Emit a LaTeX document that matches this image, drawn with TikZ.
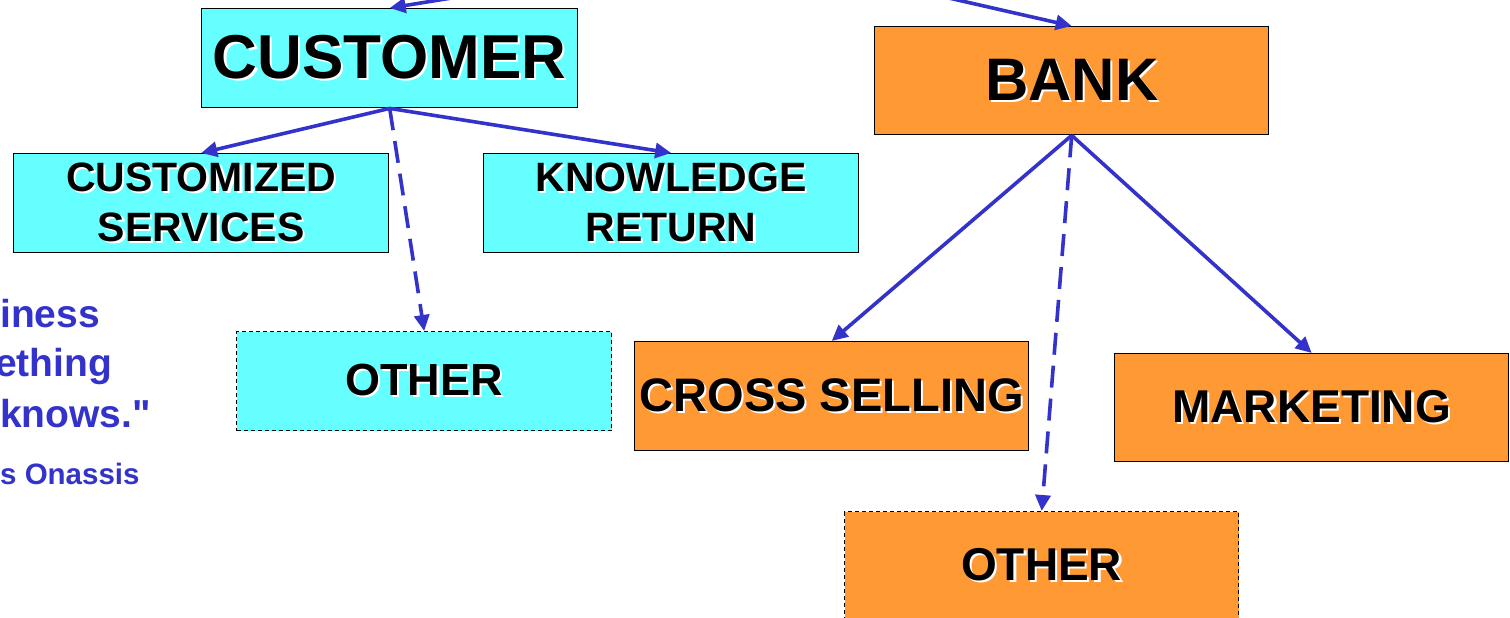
\documentclass[tikz,border=0pt]{standalone}
\usepackage{fontspec}
\setmainfont{Liberation Sans}
\newfontfamily\qfont{Liberation Sans}
\usetikzlibrary{arrows.meta}
\definecolor{cyanbox}{HTML}{66FFFF}
\definecolor{orangebox}{HTML}{FF9933}
\definecolor{arrblue}{HTML}{3333CC}
\newcommand\shtxt[1]{\rlap{\kern2.2pt\raisebox{-2.2pt}{\color{white}#1}}#1}
\tikzset{
  box/.style={draw=black, line width=1.4pt, inner sep=0pt, anchor=north west, align=center},
  cbox/.style={box, fill=cyanbox},
  obox/.style={box, fill=orangebox},
  dbox/.style={dash pattern=on 4pt off 3pt},
  fs/.style={font=\bfseries\fontsize{#1}{#1}\selectfont},
  arr/.style={draw=arrblue, line width=3.6pt, -{Triangle[length=16pt,width=15pt]}},
  darr/.style={arr, dash pattern=on 22pt off 11pt},
  quote/.style={text=arrblue, anchor=base west, inner sep=0pt}
}
\begin{document}
\begin{tikzpicture}[x=1pt,y=-1pt]
\useasboundingbox (0,0) rectangle (1510,618);
% boxes
\node[cbox, fs=62, minimum width=376pt, minimum height=99pt] (cust) at (201,8)
  {\shtxt{CUSTOMER}};
\node[obox, fs=60, minimum width=394pt, minimum height=108pt] (bank) at (874,26)
  {\shtxt{BANK}};
\node[cbox, font=\bfseries\fontsize{41}{50}\selectfont, minimum width=375pt, minimum height=99pt] (cserv) at (13,153)
  {\shtxt{CUSTOMIZED}\\\shtxt{SERVICES}};
\node[cbox, font=\bfseries\fontsize{41}{50}\selectfont, minimum width=375pt, minimum height=99pt] (know) at (483,153)
  {\shtxt{KNOWLEDGE}\\\shtxt{RETURN}};
\node[cbox, dbox, fs=45, minimum width=375pt, minimum height=99pt] (cother) at (236,331)
  {\shtxt{OTHER}};
\node[obox, fs=47, minimum width=394pt, minimum height=109pt] (cross) at (634,341)
  {\shtxt{CROSS SELLING}};
\node[obox, fs=46, minimum width=394pt, minimum height=108pt] (mkt) at (1114,353)
  {\shtxt{MARKETING}};
\node[obox, dbox, fs=46, minimum width=394pt, minimum height=108pt] (bother) at (844,511)
  {\shtxt{OTHER}};
% quote fragments
\node[quote, font=\qfont\bfseries\fontsize{39}{39}\selectfont] (q1) at (0,327) {iness};
\node[quote, font=\qfont\bfseries\fontsize{39}{39}\selectfont] (q2) at (-5,376) {ething};
\node[quote, font=\qfont\bfseries\fontsize{39}{39}\selectfont] (q3) at (0,427) {knows."};
\node[quote, font=\qfont\bfseries\fontsize{29.5}{29.5}\selectfont] (q4) at (0,484) {s Onassis};
% incoming free ends
\coordinate (inc) at (470,-5);
\coordinate (inb) at (940,-4);
% connectors
\draw[arr] (inc) -- (cust.north);
\draw[arr] (inb) -- (bank.north);
\draw[arr] (cust.south) -- (cserv.north);
\draw[arr] (cust.south) -- (know.north);
\draw[darr] (cust.south) -- (cother.north);
\draw[arr] (bank.south) -- (cross.north);
\draw[arr] (bank.south) -- (mkt.north);
\draw[darr] (bank.south) -- (bother.north);
\end{tikzpicture}
\end{document}
